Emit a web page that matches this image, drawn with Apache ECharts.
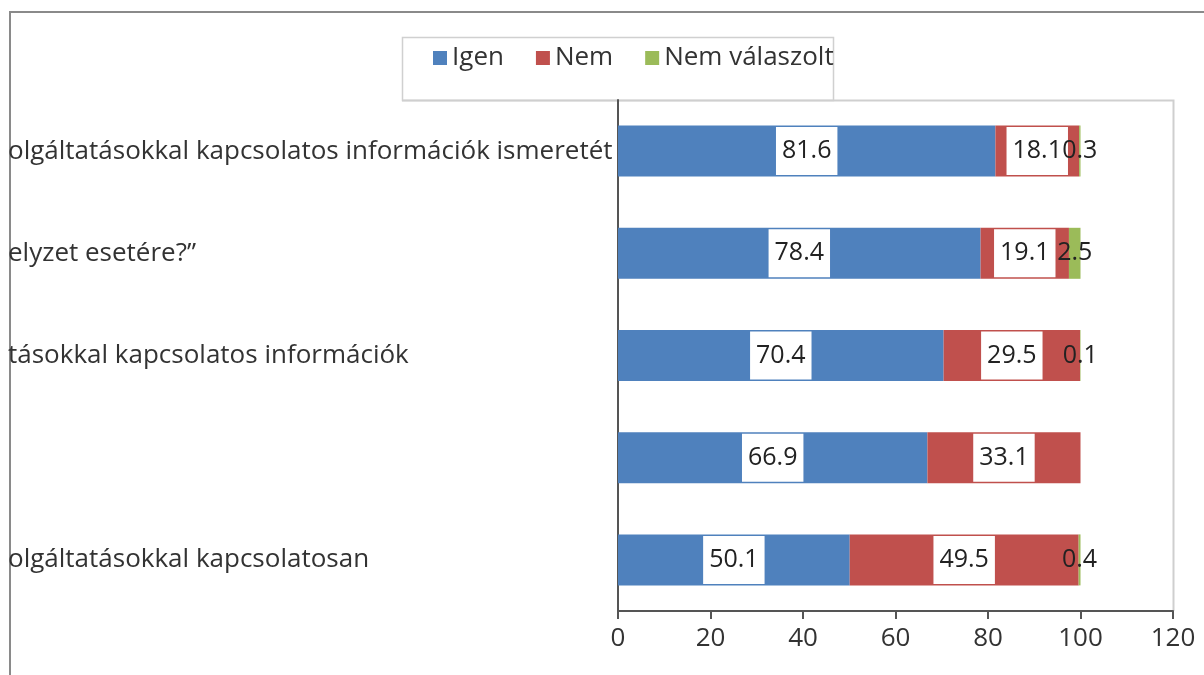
<!DOCTYPE html>
<html><head><meta charset="utf-8">
<script src="https://cdn.jsdelivr.net/npm/echarts@6/dist/echarts.min.js"></script>
<style>html,body{margin:0;padding:0;background:#fff}#c{width:1204px;height:675px}</style>
</head><body><div id="c"></div>
<script>
const categories = [
  "olgáltatásokkal kapcsolatos információk ismeretét",
  "elyzet esetére?”",
  "tásokkal kapcsolatos információk",
  "",
  "olgáltatásokkal kapcsolatosan"
];
const seriesNames = ["Igen", "Nem", "Nem válaszolt"];
const igen = [81.6, 78.4, 70.4, 66.9, 50.1];
const nem = [18.1, 19.1, 29.5, 33.1, 49.5];
const nemValaszolt = [0.3, 2.5, 0.1, 0, 0.4];
const xTicks = [0, 20, 40, 60, 80, 100, 120];

const colors = ["#4F81BD", "#C0504D", "#9BBB59"];
const font = "'Open Sans', 'Noto Sans', sans-serif";
const labelBox = {
  show: true, position: 'inside', color: '#222', fontSize: 25, fontFamily: font,
  backgroundColor: '#fff', padding: [9, 6, 9, 6], lineHeight: 30,
  formatter: p => p.value ? String(p.value) : ''
};
const chart = echarts.init(document.getElementById('c'), null, {renderer: 'canvas'});
chart.setOption({
  animation: false,
  backgroundColor: '#fff',
  grid: {left: 618, right: 31, top: 100, bottom: 64, containLabel: false},
  legend: {
    data: seriesNames, left: 428, top: 40, itemWidth: 14, itemHeight: 14, itemGap: 32,
    textStyle: {fontSize: 26, fontFamily: font, color: '#333'}, icon: 'rect'
  },
  xAxis: {
    type: 'value', min: xTicks[0], max: xTicks[xTicks.length - 1], interval: 20,
    splitLine: {show: false},
    axisLine: {show: true, lineStyle: {color: '#555', width: 2}},
    axisTick: {show: true, length: 8, lineStyle: {color: '#555', width: 2}},
    axisLabel: {fontSize: 26, fontFamily: font, color: '#333', margin: 15}
  },
  yAxis: {
    type: 'category', data: categories, inverse: true,
    axisLine: {show: true, lineStyle: {color: '#555', width: 2}},
    axisTick: {show: false},
    axisLabel: {fontSize: 26, fontFamily: font, color: '#333', align: 'left', margin: 610}
  },
  series: [
    {name: seriesNames[0], type: 'bar', stack: 't', data: igen, barWidth: 51,
     itemStyle: {color: colors[0]}, label: labelBox},
    {name: seriesNames[1], type: 'bar', stack: 't', data: nem,
     itemStyle: {color: colors[1]}, label: labelBox},
    {name: seriesNames[2], type: 'bar', stack: 't', data: nemValaszolt,
     itemStyle: {color: colors[2]},
     label: {show: true, position: 'inside', color: '#222', fontSize: 25, fontFamily: font,
             formatter: p => p.value ? String(p.value) : ''}}
  ],
  graphic: [
    {type: 'polyline', shape: {points: [[10, 675], [10, 12], [1204, 12]]}, style: {stroke: '#8a8a8a', lineWidth: 2, fill: null}, z: -1},
    {type: 'rect', shape: {x: 402.5, y: 37.5, width: 431, height: 63}, style: {stroke: '#d0d0d0', lineWidth: 1.5, fill: null}, z: -1},
    {type: 'polyline', shape: {points: [[402, 100.5], [1173.5, 100.5], [1173.5, 611]]}, style: {stroke: '#cfcfcf', lineWidth: 2, fill: null}, z: -1}
  ]
});
</script></body></html>
